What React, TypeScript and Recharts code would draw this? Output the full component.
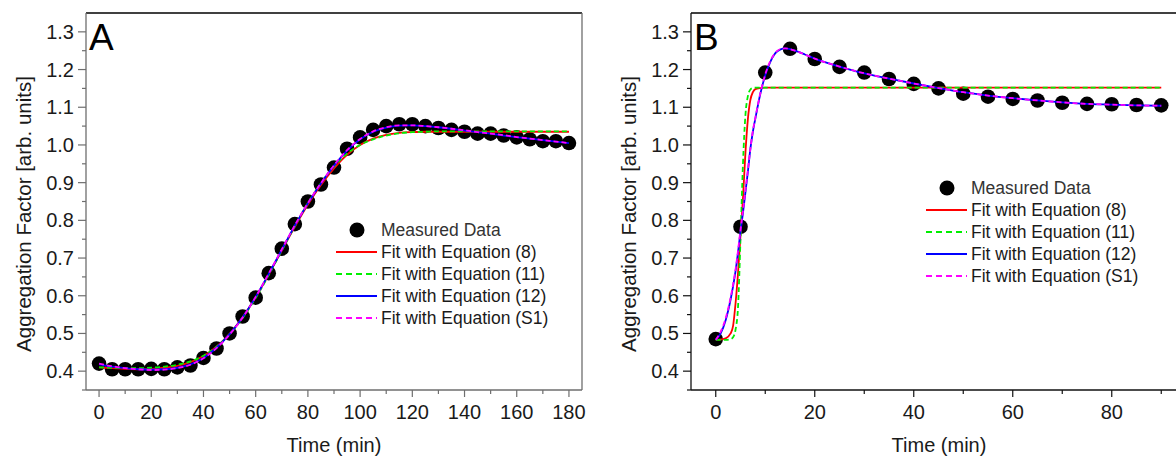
import { ComposedChart, Line, Scatter, XAxis, YAxis, ReferenceLine, Legend, Label } from 'recharts';

// ---- panel A ----
const timeA = [0, 5, 10, 15, 20, 25, 30, 35, 40, 45, 50, 55, 60, 65, 70, 75, 80, 85, 90, 95, 100, 105, 110, 115, 120, 125, 130, 135, 140, 145, 150, 155, 160, 165, 170, 175, 180];
const measuredA = [0.42, 0.405, 0.405, 0.405, 0.406, 0.405, 0.41, 0.415, 0.435, 0.46, 0.5, 0.545, 0.595, 0.66, 0.725, 0.79, 0.85, 0.895, 0.94, 0.99, 1.02, 1.04, 1.05, 1.055, 1.055, 1.05, 1.045, 1.04, 1.035, 1.03, 1.03, 1.025, 1.02, 1.015, 1.01, 1.01, 1.005];
const fit8A = [0.41, 0.408, 0.406, 0.405, 0.406, 0.409, 0.414, 0.424, 0.44, 0.465, 0.499, 0.543, 0.596, 0.656, 0.72, 0.783, 0.842, 0.894, 0.938, 0.974, 1.0, 1.017, 1.027, 1.032, 1.034, 1.035, 1.035, 1.035, 1.035, 1.035, 1.035, 1.035, 1.035, 1.035, 1.035, 1.035, 1.035];
const fit11A = [0.41, 0.409, 0.408, 0.408, 0.409, 0.412, 0.417, 0.426, 0.441, 0.465, 0.498, 0.541, 0.594, 0.655, 0.72, 0.785, 0.846, 0.899, 0.943, 0.977, 1.0, 1.015, 1.025, 1.031, 1.034, 1.035, 1.036, 1.036, 1.036, 1.036, 1.036, 1.036, 1.036, 1.036, 1.036, 1.036, 1.036];
const fit12A = [0.418, 0.412, 0.408, 0.405, 0.404, 0.405, 0.409, 0.418, 0.435, 0.462, 0.498, 0.543, 0.597, 0.658, 0.722, 0.786, 0.845, 0.898, 0.945, 0.985, 1.015, 1.035, 1.046, 1.051, 1.052, 1.05, 1.047, 1.043, 1.038, 1.034, 1.03, 1.025, 1.021, 1.017, 1.013, 1.009, 1.005];
const fitS1A = [0.42, 0.413, 0.408, 0.405, 0.403, 0.404, 0.408, 0.417, 0.434, 0.461, 0.497, 0.542, 0.597, 0.659, 0.723, 0.787, 0.846, 0.899, 0.946, 0.986, 1.016, 1.036, 1.047, 1.052, 1.052, 1.05, 1.047, 1.043, 1.039, 1.034, 1.03, 1.026, 1.021, 1.017, 1.013, 1.009, 1.005];

// ---- panel B ----
const timeB = [0, 5, 10, 15, 20, 25, 30, 35, 40, 45, 50, 55, 60, 65, 70, 75, 80, 85, 90];
const measuredB = [0.485, 0.783, 1.192, 1.255, 1.228, 1.207, 1.192, 1.175, 1.162, 1.15, 1.136, 1.128, 1.122, 1.118, 1.112, 1.109, 1.108, 1.106, 1.105];
const fitTimeB = [0, 1, 2, 3, 3.5, 4, 4.5, 5, 5.5, 6, 6.5, 7, 7.5, 8, 9, 10, 11, 12, 13, 14, 15, 16, 18, 20, 25, 30, 35, 40, 45, 50, 55, 60, 65, 70, 75, 80, 85, 90];
const fit8B = [0.483, 0.484, 0.487, 0.5, 0.52, 0.58, 0.66, 0.76, 0.86, 0.98, 1.07, 1.12, 1.14, 1.148, 1.151, 1.152, 1.152, 1.152, 1.152, 1.152, 1.152, 1.152, 1.152, 1.152, 1.152, 1.152, 1.152, 1.152, 1.152, 1.152, 1.152, 1.152, 1.152, 1.152, 1.152, 1.152, 1.152, 1.152];
const fit11B = [0.483, 0.483, 0.483, 0.485, 0.49, 0.51, 0.57, 0.75, 0.95, 1.08, 1.13, 1.147, 1.151, 1.152, 1.152, 1.152, 1.152, 1.152, 1.152, 1.152, 1.152, 1.152, 1.152, 1.152, 1.152, 1.152, 1.152, 1.152, 1.152, 1.152, 1.152, 1.152, 1.152, 1.152, 1.152, 1.152, 1.152, 1.152];
const fit12B = [0.483, 0.5, 0.535, 0.59, 0.625, 0.665, 0.715, 0.77, 0.82, 0.875, 0.93, 0.99, 1.035, 1.07, 1.135, 1.185, 1.22, 1.243, 1.253, 1.256, 1.254, 1.25, 1.24, 1.229, 1.208, 1.19, 1.176, 1.163, 1.151, 1.14, 1.131, 1.124, 1.118, 1.113, 1.109, 1.107, 1.105, 1.104];
const fitS1B = [0.483, 0.505, 0.54, 0.595, 0.63, 0.67, 0.72, 0.775, 0.825, 0.88, 0.935, 0.99, 1.038, 1.072, 1.137, 1.187, 1.222, 1.244, 1.254, 1.256, 1.254, 1.25, 1.24, 1.229, 1.208, 1.19, 1.176, 1.163, 1.151, 1.14, 1.131, 1.124, 1.118, 1.113, 1.109, 1.107, 1.105, 1.104];

// ---- ticks ----
const yMajor = [0.4, 0.5, 0.6, 0.7, 0.8, 0.9, 1.0, 1.1, 1.2, 1.3];
const yMinor = [0.35, 0.45, 0.55, 0.65, 0.75, 0.85, 0.95, 1.05, 1.15, 1.25];
const xMajorA = [0, 20, 40, 60, 80, 100, 120, 140, 160, 180];
const xMinorA = [10, 30, 50, 70, 90, 110, 130, 150, 170];
const xMajorB = [0, 20, 40, 60, 80];
const xMinorB = [10, 30, 50, 70, 90];

const legendLabels = ['Measured Data', 'Fit with Equation (8)', 'Fit with Equation (11)', 'Fit with Equation (12)', 'Fit with Equation (S1)'];
const fitColors = ['#ff0000', '#00ee00', '#0000ff', '#ff00ff'];
const fitDashed = [false, true, false, true];

const FONT = 'Arial, "Liberation Sans", sans-serif';

const toPoints = (xs: number[], ys: number[]) => xs.map((x, i) => ({ x, y: ys[i] }));
const isIn = (v: number, list: number[]) => list.some((m) => Math.abs(m - v) < 1e-9);

const XTick = ({ x, y, payload, majors, color }: any) => {
    const major = isIn(payload.value, majors);
    return (
        <g>
            <line x1={x} x2={x} y1={y} y2={y + (major ? 7 : 4)} stroke={color} strokeWidth={1.2} />
            {major && (
                <text x={x} y={y + 29} textAnchor="middle" fontSize={20} fontFamily={FONT} fill="#1a1a1a">
                    {payload.value}
                </text>
            )}
        </g>
    );
};

const YTick = ({ x, y, payload, color }: any) => {
    const major = isIn(payload.value, yMajor);
    return (
        <g>
            <line x1={x - (major ? 8 : 4)} x2={x} y1={y} y2={y} stroke={color} strokeWidth={1.2} />
            {major && (
                <text x={x - 12} y={y + 7} textAnchor="end" fontSize={20} fontFamily={FONT} fill="#1a1a1a">
                    {payload.value.toFixed(1)}
                </text>
            )}
        </g>
    );
};

const LegendBox = () => (
    <svg width={260} height={110} style={{ overflow: 'visible', display: 'block' }}>
        <circle cx={27} cy={14} r={7.5} fill="#000" />
        {legendLabels.map((label, i) => (
            <g key={label}>
                {i > 0 && (
                    <line
                        x1={6}
                        x2={47}
                        y1={14 + i * 22}
                        y2={14 + i * 22}
                        stroke={fitColors[i - 1]}
                        strokeWidth={2}
                        strokeDasharray={fitDashed[i - 1] ? '6 4' : undefined}
                    />
                )}
                <text x={51} y={14 + i * 22 + 6} fontSize={17.5} fontFamily={FONT} fill={i === 0 ? '#333' : '#1a1a1a'}>
                    {label}
                </text>
            </g>
        ))}
    </svg>
);

interface PanelProps {
    letter: string;
    left: number;
    margin: { top: number; right: number; bottom: number; left: number };
    xDomain: [number, number];
    xMajor: number[];
    xMinor: number[];
    measured: { x: number; y: number }[];
    fits: { x: number; y: number }[][];
    axisColor: string;
    legendPos: { left: number; top: number };
    titleX: number;
    showRight: boolean;
}

const Panel = ({ letter, left, margin, xDomain, xMajor, xMinor, measured, fits, axisColor, legendPos, titleX, showRight }: PanelProps) => (
    <div style={{ position: 'absolute', left, top: 0 }}>
        <ComposedChart width={600} height={457} margin={margin}>
            <XAxis
                type="number"
                dataKey="x"
                domain={xDomain}
                ticks={[...xMajor, ...xMinor].sort((a, b) => a - b)}
                interval={0}
                allowDataOverflow
                height={67}
                tickSize={0}
                tickMargin={0}
                tickLine={false}
                axisLine={{ stroke: axisColor, strokeWidth: 1.3 }}
                tick={(p: any) => <XTick {...p} majors={xMajor} color={axisColor} />}
            >
                <Label
                    content={() => (
                        <text x={titleX} y={452} textAnchor="middle" fontSize={20} fontFamily={FONT} fill="#1a1a1a">
                            Time (min)
                        </text>
                    )}
                />
            </XAxis>
            <YAxis
                type="number"
                dataKey="y"
                domain={[0.35, 1.35]}
                ticks={[...yMajor, ...yMinor].sort((a, b) => a - b)}
                interval={0}
                allowDataOverflow
                width={60}
                tickSize={0}
                tickMargin={0}
                tickLine={false}
                axisLine={{ stroke: axisColor, strokeWidth: 1.3 }}
                tick={(p: any) => <YTick {...p} color={axisColor} />}
            >
                <Label
                    content={() => (
                        <g>
                            <text
                                x={margin.left - 3}
                                y={214}
                                transform={`rotate(-90 ${margin.left - 3} 214)`}
                                textAnchor="middle"
                                dominantBaseline="central"
                                fontSize={20.5}
                                fontFamily={FONT}
                                fill="#1a1a1a"
                            >
                                Aggregation Factor [arb. units]
                            </text>
                            <text x={margin.left + 63} y={50} fontSize={37} fontFamily={FONT} fill="#000">
                                {letter}
                            </text>
                        </g>
                    )}
                />
            </YAxis>
            <ReferenceLine y={1.35} stroke="#000" strokeWidth={1.3} />
            {showRight && <ReferenceLine x={xDomain[1]} stroke={axisColor} strokeWidth={1.3} />}
            <Scatter
                data={measured}
                dataKey="y"
                fill="#000"
                zIndex={300}
                isAnimationActive={false}
                shape={(p: any) => <circle cx={p.cx} cy={p.cy} r={7.3} fill="#000" />}
            />
            {fits.map((pts, i) => (
                <Line
                    key={i}
                    data={pts}
                    dataKey="y"
                    type="monotone"
                    stroke={fitColors[i]}
                    strokeWidth={1.8}
                    strokeDasharray={fitDashed[i] ? '5 3' : undefined}
                    dot={false}
                    activeDot={false}
                    zIndex={400}
                    isAnimationActive={false}
                />
            ))}
            <Legend
                layout="vertical"
                align="center"
                verticalAlign="middle"
                wrapperStyle={{ left: legendPos.left, top: legendPos.top, width: 260, height: 110 }}
                content={() => <LegendBox />}
            />
        </ComposedChart>
    </div>
);

export default function App() {
    return (
        <div style={{ position: 'fixed', left: 0, top: 0, width: 1176, height: 457, overflow: 'hidden', background: '#fff' }}>
            <Panel
                letter="A"
                left={0}
                margin={{ top: 13, right: 18, bottom: 0, left: 26 }}
                xDomain={[-5, 185]}
                xMajor={xMajorA}
                xMinor={xMinorA}
                measured={toPoints(timeA, measuredA)}
                fits={[toPoints(timeA, fit8A), toPoints(timeA, fit11A), toPoints(timeA, fit12A), toPoints(timeA, fitS1A)]}
                axisColor="#6e6e6e"
                legendPos={{ left: 330, top: 216 }}
                titleX={334}
                showRight
            />
            <Panel
                letter="B"
                left={600}
                margin={{ top: 13, right: 14, bottom: 0, left: 31 }}
                xDomain={[-5, 95]}
                xMajor={xMajorB}
                xMinor={xMinorB}
                measured={toPoints(timeB, measuredB)}
                fits={[toPoints(fitTimeB, fit8B), toPoints(fitTimeB, fit11B), toPoints(fitTimeB, fit12B), toPoints(fitTimeB, fitS1B)]}
                axisColor="#111"
                legendPos={{ left: 320, top: 174 }}
                titleX={339}
                showRight={false}
            />
        </div>
    );
}
